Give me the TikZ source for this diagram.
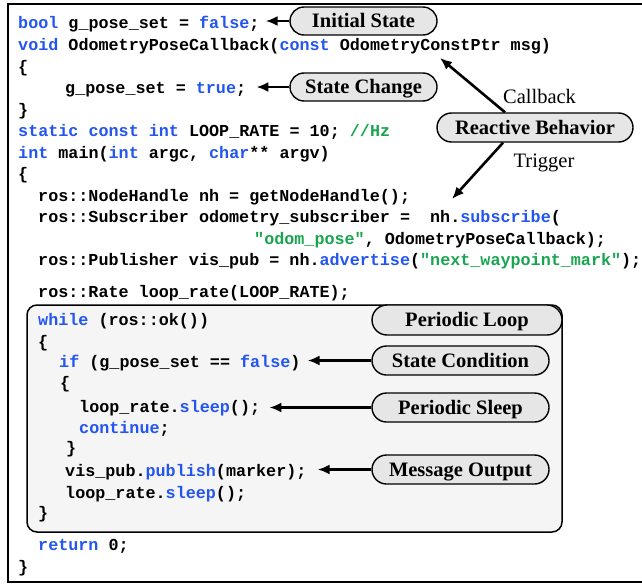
\documentclass[tikz,border=0pt]{standalone}
\usepackage{fontspec}
\setmainfont{Liberation Serif}
\newfontfamily\codefont{Liberation Mono}
\usetikzlibrary{arrows.meta,shapes.misc}
\definecolor{kwblue}{RGB}{35,85,240}
\definecolor{strgreen}{RGB}{25,165,80}
\definecolor{pillgray}{RGB}{230,230,230}
\definecolor{loopgray}{RGB}{245,245,245}
\newcommand{\kwd}[1]{\textcolor{kwblue}{#1}}
\newcommand{\strg}[1]{\textcolor{strgreen}{#1}}

\tikzset{
  codeline/.style={anchor=base west, inner sep=0pt, font=\codefont\bfseries\fontsize{16.75}{20}\selectfont},
  pill/.style={rounded rectangle, draw, fill=pillgray, line width=1.4pt, minimum height=28pt, inner sep=0pt,
    text height=13.5pt, text depth=0pt, font=\bfseries\fontsize{20.5}{24}\selectfont},
  arr/.style={line width=2.6pt, -{Latex[length=12pt,width=10pt]}},
  sidetext/.style={anchor=base, inner sep=0pt, font=\fontsize{20.5}{24}\selectfont}
}

\begin{document}
\begin{tikzpicture}[x=1pt,y=-1pt]
    \useasboundingbox (0,0) rectangle (642,586);
    \draw[line width=2.5pt] (646,4) -- (8,4) -- (8,582) -- (646,582);
    \draw[rounded corners=10pt, fill=loopgray, line width=1.5pt] (27,305) rectangle (562,532);

    % code
    \node[codeline] (l1) at (18,29) {\kwd{bool} g\_pose\_set = \kwd{false};};
    \node[codeline] (l2) at (18,50.5) {\kwd{void} OdometryPoseCallback(\kwd{const} OdometryConstPtr msg)};
    \node[codeline] (l3) at (18,72) {\{};
    \node[codeline] (l4) at (65,93.5) {g\_pose\_set = \kwd{true};};
    \node[codeline] (l5) at (18,115) {\}};
    \node[codeline] (l6) at (18,136.5) {\kwd{static const int} LOOP\_RATE = 10; \strg{//Hz}};
    \node[codeline] (l7) at (18,158) {\kwd{int} main(\kwd{int} argc, \kwd{char}** argv)};
    \node[codeline] (l8) at (18,179.5) {\{};
    \node[codeline] (l9) at (38,201) {ros::NodeHandle nh = getNodeHandle();};
    \node[codeline] (l10) at (38,222.5) {ros::Subscriber odometry\_subscriber =\ \ nh.\kwd{subscribe}(};
    \node[codeline] (l11) at (254,244) {\strg{"odom\_pose"}, OdometryPoseCallback);};
    \node[codeline] (l12) at (38,265.5) {ros::Publisher vis\_pub = nh.\kwd{advertise}(\strg{"next\_waypoint\_mark"});};
    \node[codeline] (l13) at (38,297) {ros::Rate loop\_rate(LOOP\_RATE);};
    \node[codeline] (l14) at (38,325) {\kwd{while} (ros::ok())};
    \node[codeline] (l15) at (38,347) {\{};
    \node[codeline] (l16) at (59,367) {\kwd{if} (g\_pose\_set == \kwd{false})};
    \node[codeline] (l17) at (60,388) {\{};
    \node[codeline] (l18) at (79,412) {loop\_rate.\kwd{sleep}();};
    \node[codeline] (l19) at (79,433) {\kwd{continue};};
    \node[codeline] (l20) at (66,453) {\}};
    \node[codeline] (l21) at (65,476) {vis\_pub.\kwd{publish}(marker);};
    \node[codeline] (l22) at (65,498) {loop\_rate.\kwd{sleep}();};
    \node[codeline] (l23) at (38,518) {\}};
    \node[codeline] (l24) at (38,550) {\kwd{return} 0;};
    \node[codeline] (l25) at (18,572) {\}};

    % labels
    \node[pill, minimum width=147pt] (init) at (363.5,21) {Initial State};
    \node[pill, minimum width=147pt] (change) at (363.5,87) {State Change};
    \node[pill, minimum width=196pt, minimum height=29pt] (react) at (535,127.5) {Reactive Behavior};
    \node[pill, minimum width=190pt, minimum height=30pt] (loop) at (467,320) {Periodic Loop};
    \node[pill, minimum width=177pt, minimum height=29pt] (cond) at (460.5,360.5) {State Condition};
    \node[pill, minimum width=177pt, minimum height=29pt] (psleep) at (460.5,407.5) {Periodic Sleep};
    \node[pill, minimum width=177pt, minimum height=29pt] (output) at (460.5,469.5) {Message Output};
    \node[sidetext] (cb) at (539.5,103) {Callback};
    \node[sidetext] (tr) at (544,167) {Trigger};

    \coordinate (cbtip) at (440,58);
    \coordinate (trtip) at (452,199);

    \draw[arr, shorten >=6pt] (init) -- (init -| l1.east);
    \draw[arr, shorten >=10pt] (change) -- (change -| l4.east);
    \draw[arr] ([xshift=-30pt]react.north) -- (cbtip);
    \draw[arr] ([xshift=-32pt]react.south) -- (trtip);
    \draw[arr, shorten >=7pt] (cond) -- (cond -| l16.east);
    \draw[arr, shorten >=9pt] (psleep) -- (psleep -| l18.east);
    \draw[arr, shorten >=11pt] (output) -- (output -| l21.east);
\end{tikzpicture}
\end{document}
